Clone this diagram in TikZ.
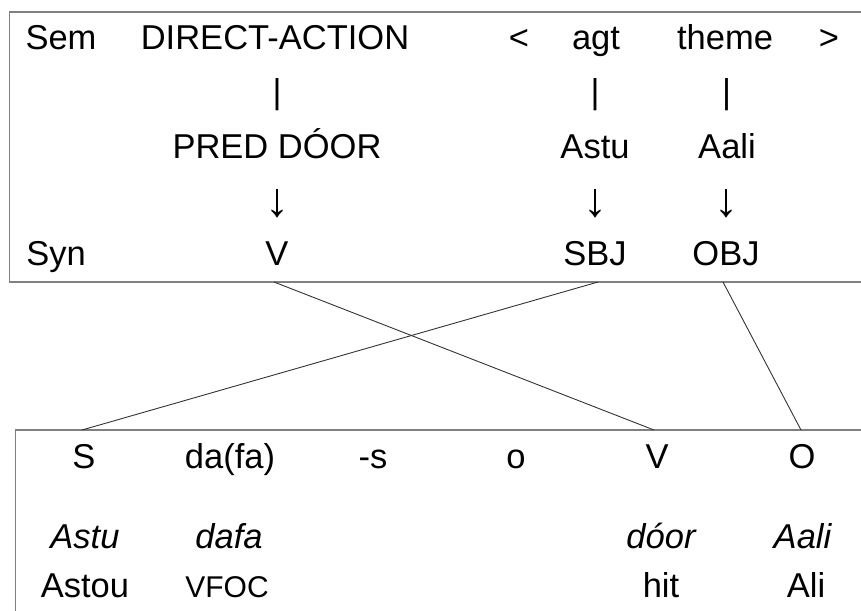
\documentclass[tikz,border=0pt]{standalone}
\usepackage{fontspec}
\setmainfont{Liberation Sans}
\begin{document}
\begin{tikzpicture}[x=1pt,y=-1pt,
  lbl/.style={anchor=base,inner sep=0pt,font=\fontsize{34.5}{40}\selectfont},
  ital/.style={lbl,font=\fontsize{34.5}{40}\selectfont\itshape},
  sml/.style={anchor=base,inner sep=0pt,font=\fontsize{30}{36}\selectfont},
  arr/.style={anchor=base,inner sep=0pt,font=\fontsize{48}{54}\selectfont},
  frame/.style={draw=black!50,line width=1.3pt},
  link/.style={draw=black!80,line width=0.9pt}]
\useasboundingbox (0,0) rectangle (861,610);
\clip (0,0) rectangle (861,610);
% frames
\draw[frame] (880,12) -- (9.5,12) -- (9.5,282) -- (880,282);
\draw[frame] (880,430) -- (15.7,430) -- (15.7,640);
% top box, row 1
\node[lbl] (sem) at (61,49) {Sem};
\node[lbl] (da) at (275,49) {DIRECT-ACTION};
\node[lbl] (lt) at (519,49) {<};
\node[lbl] (agt) at (596,49) {agt};
\node[lbl] (theme) at (725,49) {theme};
\node[lbl] (gt) at (829,49) {>};
% row 2
\node[lbl] (bar1) at (277,103.5) {|};
\node[lbl] (bar2) at (595,103.5) {|};
\node[lbl] (bar3) at (726.5,103.5) {|};
% row 3
\node[lbl] (pred) at (277,158) {PRED DÓOR};
\node[lbl] (astu) at (595,158) {Astu};
\node[lbl] (aali) at (727,158) {Aali};
% row 4
\node[arr] (arr1) at (277,216) {↓};
\node[arr] (arr2) at (595,216) {↓};
\node[arr] (arr3) at (726,216) {↓};
% row 5
\node[lbl] (syn) at (56,265) {Syn};
\node[lbl] (vtop) at (277,265) {V};
\node[lbl] (sbj) at (595,265) {SBJ};
\node[lbl] (obj) at (726,265) {OBJ};
% bottom box
\node[lbl] (s) at (84,468) {S};
\node[lbl] (dafa0) at (230,468) {da(fa)};
\node[lbl] (suf) at (373,468) {-s};
\node[lbl] (o) at (516,468) {o};
\node[lbl] (vbot) at (657,468) {V};
\node[lbl] (obot) at (802,468) {O};
\node[ital] (astui) at (85,548) {Astu};
\node[ital] (dafa) at (229,548) {dafa};
\node[ital] (door) at (661,548) {dóor};
\node[ital] (aalii) at (802.5,548) {Aali};
\node[lbl] (astou) at (85,597) {Astou};
\node[sml] (vfoc) at (227,597) {VFOC};
\node[lbl] (hit) at (661,597) {hit};
\node[lbl] (ali) at (806,597) {Ali};
% connector end points on the frames
\coordinate (vtopE) at (274,282);
\coordinate (sbjE) at (598,282);
\coordinate (objE) at (723,282);
\coordinate (sE) at (82,430);
\coordinate (vbotE) at (654,430);
\coordinate (obotE) at (801,430);
\draw[link] (vtopE) -- (vbotE);
\draw[link] (sbjE) -- (sE);
\draw[link] (objE) -- (obotE);
\end{tikzpicture}
\end{document}
